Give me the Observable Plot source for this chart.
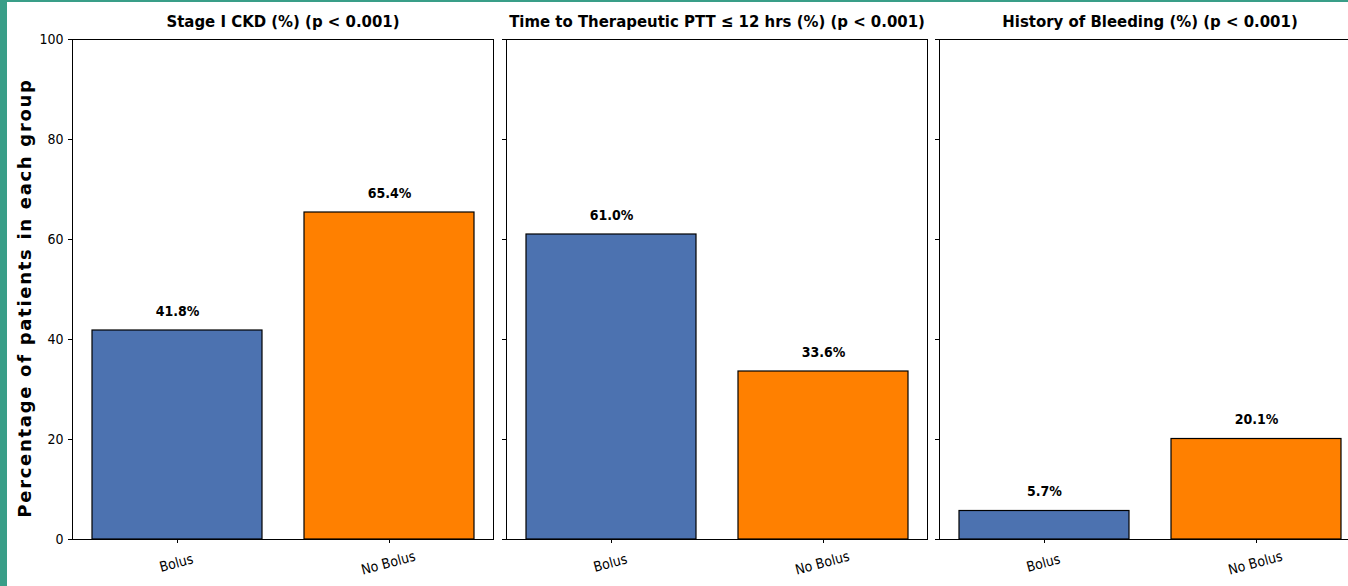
<!DOCTYPE html>
<html>
<head>
<meta charset="utf-8">
<script src="https://cdn.jsdelivr.net/npm/d3@7"></script>
<script src="https://cdn.jsdelivr.net/npm/@observablehq/plot@0.6"></script>
<style>
  html, body { margin: 0; padding: 0; background: #fff; overflow: hidden; }
  #wrap { position: relative; width: 1348px; height: 586px; overflow: hidden; background: #fff; }
  .panel { position: absolute; top: 0; }
  #leftbar { position: absolute; left: 0; top: 0; width: 7px; height: 586px; background: #399e88; }
  #topbar { position: absolute; left: 0; top: 0; width: 1348px; height: 2px; background: #399e88; }
  #ylabel { position: absolute; left: 24px; top: 298px; transform: translate(-50%, -50%) rotate(-90deg);
    font-family: "DejaVu Sans", sans-serif; font-weight: bold; font-size: 18px; letter-spacing: 1.7px; white-space: nowrap; color: #000; }
</style>
</head>
<body>
<div id="wrap">
  <div id="ylabel">Percentage of patients in each group</div>
</div>
<script>
const groups = ["Bolus", "No Bolus"];
const panelTitles = [
  "Stage I CKD (%) (p < 0.001)",
  "Time to Therapeutic PTT \u2264 12 hrs (%) (p < 0.001)",
  "History of Bleeding (%) (p < 0.001)"
];
const bolusValues = [41.8, 61.0, 5.7];
const noBolusValues = [65.4, 33.6, 20.1];
const yTicks = [0, 20, 40, 60, 80, 100];
const colors = ["#4c72b0", "#ff8000"];

const panelLefts = [72, 506, 939];
const panelW = 421;
const font = "'DejaVu Sans Condensed', 'DejaVu Sans', sans-serif";
const wrap = document.getElementById("wrap");

panelTitles.forEach((title, i) => {
  const data = [
    {group: groups[0], value: bolusValues[i]},
    {group: groups[1], value: noBolusValues[i]}
  ];
  const mL = i === 0 ? 72 : 20;
  const mR = 10;
  const chart = Plot.plot({
    width: mL + panelW + mR,
    height: 586,
    marginLeft: mL,
    marginRight: mR,
    marginTop: 39,
    marginBottom: 47,
    style: {fontFamily: font, fontSize: "14px", background: "transparent", color: "#000"},
    x: {domain: groups, paddingInner: 0.2, paddingOuter: 0.09, axis: null},
    y: {domain: [0, 100], axis: null},
    color: {domain: groups, range: colors},
    marks: [
      Plot.barY(data, {x: "group", y: "value", fill: "group", stroke: "#000", strokeWidth: 1.2}),
      Plot.axisY({ticks: yTicks, tickSize: 4, tickPadding: 5, stroke: "#000",
        tickFormat: i === 0 ? (d => d) : (() => ""), fontSize: 14, label: null}),
      Plot.axisX({tickSize: 4, tickFormat: () => "", stroke: "#000", label: null}),
      Plot.text(groups, {x: d => d, text: d => d, frameAnchor: "bottom", dy: 28, rotate: -15,
        textAnchor: "middle", fontSize: 14, fill: "#000"}),
      Plot.text(data, {x: "group", y: "value", text: d => d.value.toFixed(1) + "%", dy: -19,
        lineAnchor: "middle", fontWeight: "bold", fontSize: 14, fill: "#000"}),
      Plot.text([title], {text: d => d, frameAnchor: "top", dy: -18, lineAnchor: "middle",
        fontWeight: "bold", fontSize: 16.6, fill: "#000"}),
      Plot.frame({stroke: "#000", strokeWidth: 1})
    ]
  });
  chart.classList.add("panel");
  chart.style.left = (panelLefts[i] - mL) + "px";
  wrap.appendChild(chart);
});

const lb = document.createElement("div"); lb.id = "leftbar"; wrap.appendChild(lb);
const tb = document.createElement("div"); tb.id = "topbar"; wrap.appendChild(tb);
</script>
</body>
</html>
